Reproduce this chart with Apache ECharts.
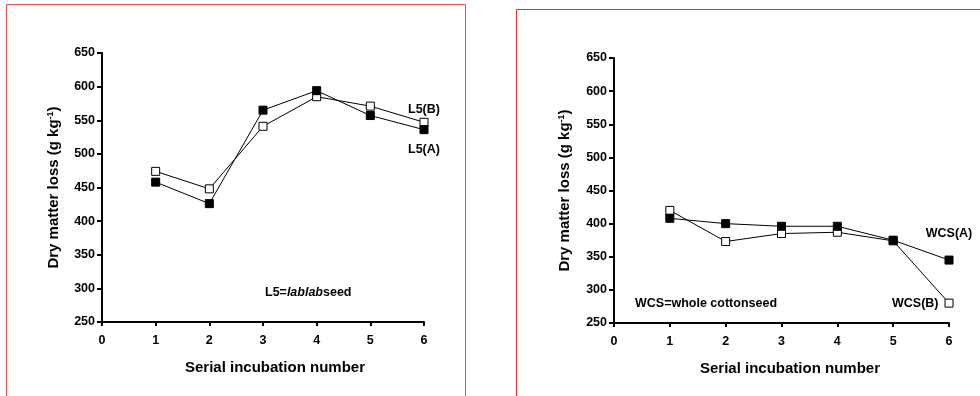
<!DOCTYPE html>
<html>
<head>
<meta charset="utf-8">
<script src="https://cdn.jsdelivr.net/npm/echarts@6/dist/echarts.min.js"></script>
<style>
  html, body { margin: 0; padding: 0; background: #fff; }
  #main { width: 980px; height: 396px; }
</style>
</head>
<body>
<div id="main"></div>
<script>
// serial incubation numbers (x) and dry matter loss, g/kg
var incubation = [1, 2, 3, 4, 5, 6];
var l5A  = [458, 426, 565, 594, 557, 536];
var l5B  = [474, 448, 541, 585, 571, 547];
var wcsA = [408, 400, 396, 396, 375, 345];
var wcsB = [420, 373, 385, 387, 374, 280];
var seriesNames = ['L5(A)', 'L5(B)', 'WCS(A)', 'WCS(B)'];
var yMin = 250, yMax = 650, yStep = 50;
var xMin = 0, xMax = 6, xStep = 1;

var font = "'Liberation Sans', Arial, sans-serif";
var myChart = echarts.init(document.getElementById('main'));

function pairs(vals, lastLabel) {
    return vals.map(function (v, i) {
        var item = { value: [incubation[i], v] };
        if (i === vals.length - 1 && lastLabel) {
            item.label = lastLabel;
        }
        return item;
    });
}

function xAxisFor(idx, namePad) {
    return {
        gridIndex: idx,
        type: 'value',
        min: xMin, max: xMax, interval: xStep,
        name: 'Serial incubation number',
        nameLocation: 'middle',
        nameGap: 38,
        nameTextStyle: { color: '#000', fontFamily: font, fontWeight: 'bold', fontSize: 15, padding: [0, 0, 0, namePad] },
        splitLine: { show: false },
        axisLine: { onZero: false, lineStyle: { color: '#000', width: 2 } },
        axisTick: { length: 4, lineStyle: { color: '#000', width: 2 } },
        axisLabel: { color: '#000', fontFamily: font, fontWeight: 'bold', fontSize: 12.5, margin: 12 }
    };
}

function yAxisFor(idx, gap) {
    return {
        gridIndex: idx,
        type: 'value',
        min: yMin, max: yMax, interval: yStep,
        name: 'Dry matter loss (g kg{sup|-1})',
        nameLocation: 'middle',
        nameGap: gap,
        nameTextStyle: {
            color: '#000', fontFamily: font, fontWeight: 'bold', fontSize: 15,
            rich: {
                sup: { color: '#000', fontFamily: font, fontWeight: 'bold', fontSize: 9, verticalAlign: 'top', padding: [0, 0, 6, 0] }
            }
        },
        splitLine: { show: false },
        axisLine: { onZero: false, lineStyle: { color: '#000', width: 2 } },
        axisTick: { length: 5, lineStyle: { color: '#000', width: 2 } },
        axisLabel: { color: '#000', fontFamily: font, fontWeight: 'bold', fontSize: 12.5, margin: 7 }
    };
}

function lineSeries(name, idx, vals, filled, lastLabel) {
    return {
        name: name,
        type: 'line',
        xAxisIndex: idx,
        yAxisIndex: idx,
        symbol: 'rect',
        symbolSize: 8,
        showAllSymbol: true,
        lineStyle: { color: '#000', width: 1 },
        itemStyle: { color: filled ? '#000' : '#fff', borderColor: '#000', borderWidth: 1 },
        label: { show: false },
        silent: true,
        animation: false,
        z: filled ? 3 : 2,
        data: pairs(vals, lastLabel)
    };
}

function tag(position, distance) {
    return {
        show: true, position: position, distance: distance, formatter: '{a}',
        color: '#000', fontFamily: font, fontWeight: 'bold', fontSize: 12.5
    };
}

var option = {
    backgroundColor: '#fff',
    animation: false,
    grid: [
        { left: 102, right: 556, top: 53, bottom: 74 },
        { left: 614, right: 31, top: 58, bottom: 73 }
    ],
    xAxis: [xAxisFor(0, 24), xAxisFor(1, 17)],
    yAxis: [yAxisFor(0, 41), yAxisFor(1, 42)],
    graphic: [
        {
            type: 'rect', silent: true,
            shape: { x: 6.5, y: 4.5, width: 459, height: 420 },
            style: { fill: null, stroke: '#f44', lineWidth: 1 }
        },
        {
            type: 'rect', silent: true,
            shape: { x: 516.5, y: 9.5, width: 480, height: 420 },
            style: { fill: null, stroke: '#f22', lineWidth: 1 }
        },
        {
            type: 'text', silent: true, left: 265, top: 286,
            style: {
                text: '{b|L5=}{i|lablab}{b|seed}',
                rich: {
                    b: { fill: '#000', fontFamily: font, fontWeight: 'bold', fontSize: 12.5 },
                    i: { fill: '#000', fontFamily: font, fontWeight: 'bold', fontStyle: 'italic', fontSize: 12.5 }
                }
            }
        },
        {
            type: 'text', silent: true, left: 635, top: 297,
            style: { text: 'WCS=whole cottonseed', fill: '#000', font: 'bold 12.5px ' + font }
        }
    ],
    series: [
        lineSeries(seriesNames[1], 0, l5B, false, tag('top', 2)),
        lineSeries(seriesNames[0], 0, l5A, true, tag('bottom', 9)),
        lineSeries(seriesNames[3], 1, wcsB, false, tag('left', 6)),
        lineSeries(seriesNames[2], 1, wcsA, true, tag('top', 16))
    ]
};
myChart.setOption(option);
</script>
</body>
</html>
